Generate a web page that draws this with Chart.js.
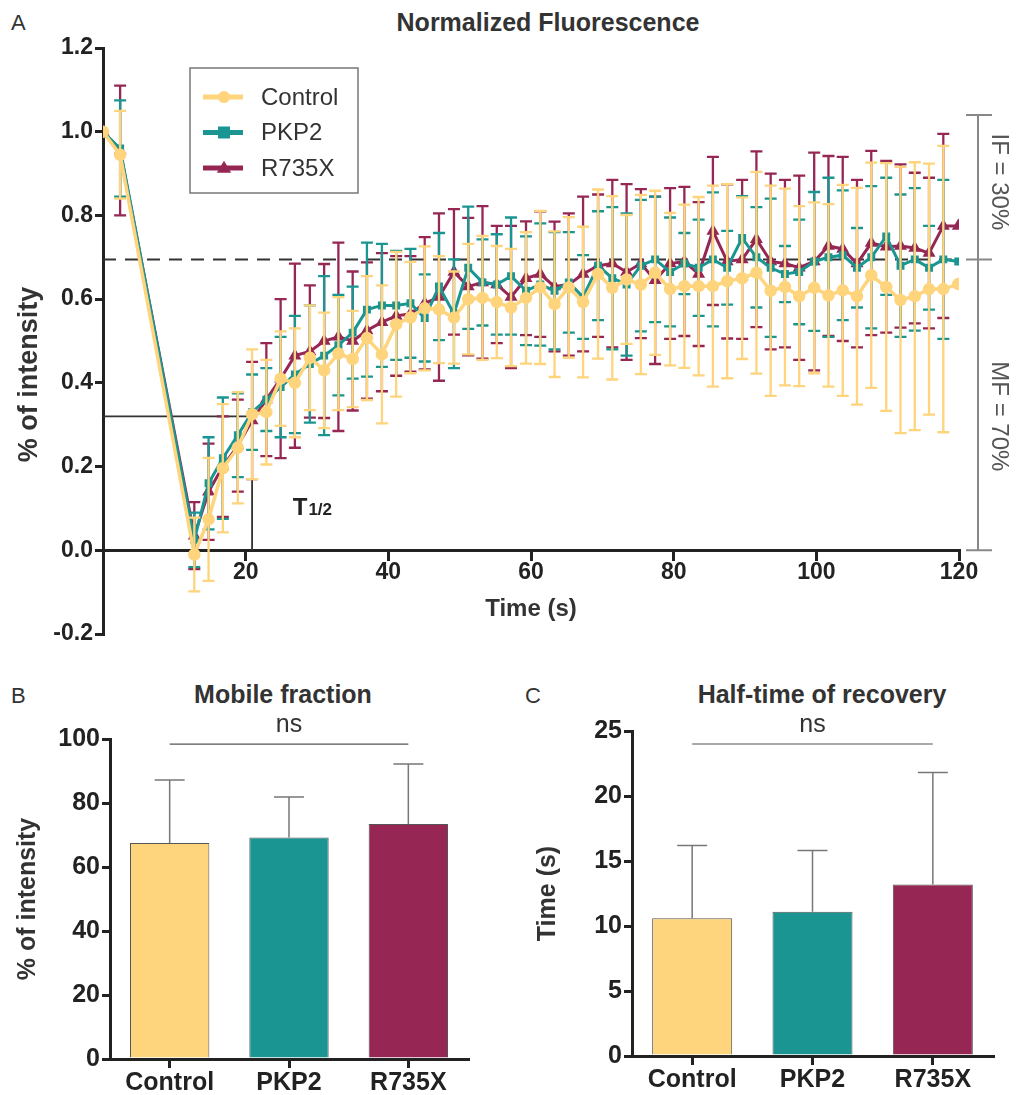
<!DOCTYPE html>
<html>
<head>
<meta charset="utf-8">
<script src="https://cdn.jsdelivr.net/npm/chart.js@4.4.1/dist/chart.umd.min.js"></script>
<style>
  body { margin: 0; background: #fff; width: 1020px; height: 1095px; position: relative; overflow: hidden;
         font-family: "Liberation Sans", Arial, sans-serif; color: #333; }
  canvas { position: absolute; }
  .panel { position: absolute; font-size: 22px; line-height: 1; color: #333; }
  .ttl { position: absolute; font-weight: bold; font-size: 25px; line-height: 1; color: #333;
         white-space: nowrap; transform: translate(-50%, -50%); }
</style>
</head>
<body>
<div class="panel" style="left:11px;top:12px">A</div>
<div class="ttl" style="left:548px;top:22px">Normalized Fluorescence</div>
<canvas id="fluo" width="1020" height="650" style="left:0;top:0"></canvas>

<div class="panel" style="left:11px;top:685px">B</div>
<div class="ttl" style="left:283px;top:694px">Mobile fraction</div>
<canvas id="mobile" width="510" height="445" style="left:0;top:650px"></canvas>

<div class="panel" style="left:525px;top:685px">C</div>
<div class="ttl" style="left:822px;top:694px">Half-time of recovery</div>
<canvas id="halftime" width="510" height="445" style="left:510px;top:650px"></canvas>

<script>
// ---- panel A data (time in s, normalized intensity, SD) ----
const times = [0, 2.4, 12.8, 14.8, 16.8, 18.9, 20.9, 22.9, 24.9, 26.9, 29.0, 31.0, 33.0, 35.0, 37.0, 39.1,
  41.1, 43.1, 45.1, 47.1, 49.2, 51.2, 53.2, 55.2, 57.2, 59.3, 61.3, 63.3, 65.3, 67.3, 69.4, 71.4, 73.4,
  75.4, 77.4, 79.5, 81.5, 83.5, 85.5, 87.5, 89.6, 91.6, 93.6, 95.6, 97.6, 99.7, 101.7, 103.7, 105.7,
  107.7, 109.8, 111.8, 113.8, 115.8, 117.8, 119.9];

const controlMean = [1.0, 0.945, -0.01, 0.074, 0.196, 0.245, 0.325, 0.33, 0.41, 0.40, 0.46, 0.43, 0.47, 0.457,
  0.507, 0.468, 0.54, 0.556, 0.578, 0.575, 0.556, 0.60, 0.603, 0.593, 0.58, 0.603, 0.628,
  0.588, 0.628, 0.593, 0.66, 0.627, 0.647, 0.635, 0.663, 0.624,
  0.631, 0.631, 0.631, 0.643, 0.65, 0.663, 0.62, 0.629, 0.607, 0.627, 0.609, 0.621, 0.607, 0.657, 0.629,
  0.598, 0.607, 0.624, 0.624, 0.636];
const controlSD = [0, 0.105, 0.088, 0.147, 0.153, 0.133, 0.155, 0.125, 0.113, 0.13, 0.125, 0.138, 0.135, 0.115,
  0.148, 0.165, 0.173, 0.133, 0.148, 0.128, 0.11, 0.132, 0.148, 0.134, 0.14, 0.157, 0.183,
  0.174, 0.168, 0.18, 0.202, 0.219, 0.154, 0.214, 0.196, 0.182,
  0.195, 0.213, 0.24, 0.232, 0.193, 0.241, 0.251, 0.235, 0.215, 0.204, 0.218, 0.252, 0.259, 0.269, 0.296,
  0.318, 0.32, 0.3, 0.342, null];

const pkp2Mean = [1.0, 0.96, 0.025, 0.16, 0.22, 0.275, 0.33, 0.36, 0.39, 0.42, 0.445, 0.465, 0.49, 0.52,
  0.575, 0.585, 0.585, 0.59, 0.555, 0.63, 0.565, 0.675, 0.64, 0.635, 0.655, 0.62, 0.635,
  0.62, 0.64, 0.605, 0.68, 0.65, 0.635, 0.68, 0.695, 0.665,
  0.685, 0.675, 0.695, 0.675, 0.746, 0.70, 0.675, 0.66, 0.665, 0.69, 0.70, 0.705, 0.675, 0.70, 0.75,
  0.68, 0.695, 0.675, 0.695, 0.69];
const pkp2SD = [0, 0.115, 0.065, 0.11, 0.145, 0.1, 0.09, 0.075, 0.12, 0.14, 0.14, 0.19, 0.12, 0.11,
  0.16, 0.147, 0.13, 0.13, 0.104, 0.128, 0.13, 0.146, 0.103, 0.12, 0.14, 0.13, 0.146,
  0.14, 0.12, 0.10, 0.13, 0.17, 0.17, 0.157, 0.15, 0.13,
  0.073, 0.115, 0.16, 0.088, 0.10, 0.12, 0.165, 0.067, 0.125, 0.166, 0.19, 0.155, 0.095, 0.17, 0.14,
  0.17, 0.17, 0.1, 0.19, null];

const r735xMean = [1.0, 0.955, 0.035, 0.14, 0.2, 0.25, 0.31, 0.36, 0.41, 0.465, 0.475, 0.5, 0.51, 0.5,
  0.525, 0.545, 0.56, 0.565, 0.59, 0.605, 0.665, 0.63, 0.64, 0.635, 0.605, 0.65, 0.66,
  0.63, 0.635, 0.66, 0.68, 0.685, 0.665, 0.685, 0.645, 0.685,
  0.69, 0.66, 0.763, 0.69, 0.695, 0.743, 0.69, 0.685, 0.675, 0.69, 0.727, 0.72, 0.685, 0.734, 0.725,
  0.727, 0.722, 0.71, 0.775, 0.775];
const r735xSD = [0, 0.155, 0.08, 0.115, 0.12, 0.11, 0.14, 0.135, 0.19, 0.22, 0.158, 0.184, 0.225, 0.166,
  0.163, 0.165, 0.143, 0.138, 0.158, 0.2, 0.15, 0.164, 0.182, 0.14, 0.17, 0.136, 0.15,
  0.155, 0.17, 0.185, 0.17, 0.2, 0.21, 0.178, 0.2, 0.18,
  0.178, 0.172, 0.177, 0.184, 0.19, 0.21, 0.21, 0.2, 0.22, 0.26, 0.215, 0.22, 0.2, 0.22, 0.205,
  0.195, 0.18, 0.18, 0.22, null];

// reference marks drawn in panel A
const plateau = 0.695;      // dashed line (MF level)
const halfLevel = 0.32;     // T1/2 box
const halfTime = 20.9;
const bracketTop = 1.04;

// ---- panels B and C ----
const groups = ['Control', 'PKP2', 'R735X'];
const mobileMean = [67.5, 69.2, 73.4];
const mobileSD = [19.7, 12.7, 18.8];
const halfTimeMean = [10.6, 11.1, 13.2];
const halfTimeSD = [5.6, 4.7, 8.6];

const YELLOW = '#FED47C', TEAL = '#1A9592', MAROON = '#962654';
const groupColors = [YELLOW, TEAL, MAROON];
const FONT = '"Liberation Sans", Arial, sans-serif';

Chart.defaults.font.family = FONT;
Chart.defaults.color = '#333';

// error bars: lines get them under the line, bars get them on top (upper half only)
const errorBars = {
  id: 'errorBars',
  beforeDatasetDraw(chart, args) {
    const ds = chart.data.datasets[args.index];
    if (ds.sd && !ds.upperOnly) drawErr(chart, args.meta, ds);
  },
  afterDatasetDraw(chart, args) {
    const ds = chart.data.datasets[args.index];
    if (ds.sd && ds.upperOnly) drawErr(chart, args.meta, ds);
  }
};
function drawErr(chart, meta, ds) {
  const ctx = chart.ctx, y = chart.scales.y;
  ctx.save();
  ctx.strokeStyle = ds.errColor || ds.borderColor;
  ctx.lineWidth = ds.errWidth || 2;
  meta.data.forEach((el, i) => {
    const sd = ds.sd[i];
    if (!sd) return;
    const d = ds.data[i];
    const m = typeof d === 'object' ? d.y : d;
    const top = y.getPixelForValue(m + sd);
    const bot = ds.upperOnly ? y.getPixelForValue(m) : y.getPixelForValue(m - sd);
    const w = ds.capWidth / 2;
    ctx.beginPath();
    ctx.moveTo(el.x, top); ctx.lineTo(el.x, bot);
    ctx.moveTo(el.x - w, top); ctx.lineTo(el.x + w, top);
    if (!ds.upperOnly) { ctx.moveTo(el.x - w, bot); ctx.lineTo(el.x + w, bot); }
    ctx.stroke();
  });
  ctx.restore();
}

function marker(ctx, style, x, y, r) {
  ctx.beginPath();
  if (style === 'circle') ctx.arc(x, y, r, 0, Math.PI * 2);
  else if (style === 'rect') ctx.rect(x - r, y - r, 2 * r, 2 * r);
  else { ctx.moveTo(x, y - r * 1.2); ctx.lineTo(x + r * 1.2, y + r * 0.8); ctx.lineTo(x - r * 1.2, y + r * 0.8); ctx.closePath(); }
  ctx.fill();
}

const fluoMarks = {
  id: 'fluoMarks',
  beforeDatasetsDraw(chart) {
    const { ctx, scales: { x, y } } = chart;
    ctx.save();
    ctx.strokeStyle = '#333';
    ctx.lineWidth = 2;
    ctx.setLineDash([13, 9]);
    ctx.beginPath();
    ctx.moveTo(x.getPixelForValue(0), y.getPixelForValue(plateau));
    ctx.lineTo(x.getPixelForValue(120), y.getPixelForValue(plateau));
    ctx.stroke();
    ctx.setLineDash([]);
    ctx.lineWidth = 1.8;
    ctx.beginPath();
    ctx.moveTo(x.getPixelForValue(0), y.getPixelForValue(halfLevel));
    ctx.lineTo(x.getPixelForValue(halfTime), y.getPixelForValue(halfLevel));
    ctx.lineTo(x.getPixelForValue(halfTime), y.getPixelForValue(0));
    ctx.stroke();
    ctx.restore();
  },
  afterDraw(chart) {
    const { ctx, chartArea: ca, scales: { x, y } } = chart;
    ctx.save();
    // y axis title, sits a little below the axis middle as in the figure
    ctx.fillStyle = '#333';
    ctx.font = 'bold 27px ' + FONT;
    ctx.textAlign = 'center';
    ctx.textBaseline = 'middle';
    ctx.save();
    ctx.translate(30, y.getPixelForValue(0.42));
    ctx.rotate(-Math.PI / 2);
    ctx.fillText('% of intensity', 0, 0);
    ctx.restore();

    // T1/2 label
    ctx.fillStyle = '#222';
    ctx.textAlign = 'left';
    ctx.textBaseline = 'alphabetic';
    ctx.font = 'bold 24px ' + FONT;
    const tx = x.getPixelForValue(26.6), ty = y.getPixelForValue(0.085);
    ctx.fillText('T', tx, ty);
    const tw = ctx.measureText('T').width;
    ctx.font = 'bold 17px ' + FONT;
    ctx.fillText('1/2', tx + tw + 1, ty);

    // bracket on the right
    const bx = ca.right + 19;
    ctx.strokeStyle = '#888';
    ctx.lineWidth = 2;
    ctx.beginPath();
    ctx.moveTo(bx, y.getPixelForValue(bracketTop)); ctx.lineTo(bx, y.getPixelForValue(0));
    [bracketTop, plateau, 0].forEach(v => {
      const py = y.getPixelForValue(v);
      ctx.moveTo(bx - 12, py); ctx.lineTo(bx + 14, py);
    });
    ctx.stroke();
    ctx.fillStyle = '#555';
    ctx.font = '24px ' + FONT;
    ctx.textAlign = 'center';
    ctx.textBaseline = 'middle';
    [['IF = 30%', 0.88], ['MF = 70%', 0.32]].forEach(([t, v]) => {
      ctx.save();
      ctx.translate(bx + 21, y.getPixelForValue(v));
      ctx.rotate(Math.PI / 2);
      ctx.fillText(t, 0, 0);
      ctx.restore();
    });

    // legend box
    const lx = ca.left + 87, ly = ca.top + 20;
    ctx.strokeStyle = '#777';
    ctx.lineWidth = 1.5;
    ctx.strokeRect(lx, ly, 168, 125);
    ctx.textAlign = 'left';
    ctx.font = '24px ' + FONT;
    chart.data.datasets.forEach((ds, i) => {
      const ry = ly + 29 + i * 35.5;
      ctx.strokeStyle = ds.borderColor;
      ctx.fillStyle = ds.borderColor;
      ctx.lineWidth = 5;
      ctx.beginPath(); ctx.moveTo(lx + 13, ry); ctx.lineTo(lx + 53, ry); ctx.stroke();
      marker(ctx, ds.pointStyle, lx + 34, ry, 6);
      ctx.fillStyle = '#333';
      ctx.fillText(ds.label, lx + 71, ry + 1);
    });
    ctx.restore();
  }
};

const nsMark = {
  id: 'nsMark',
  afterDraw(chart, args, opts) {
    const { ctx, scales: { x, y } } = chart;
    const py = y.getPixelForValue(opts.level);
    ctx.save();
    ctx.strokeStyle = '#555';
    ctx.lineWidth = 1.2;
    ctx.beginPath();
    ctx.moveTo(x.getPixelForValue(0), py); ctx.lineTo(x.getPixelForValue(2), py);
    ctx.stroke();
    ctx.fillStyle = '#333';
    ctx.font = '25px ' + FONT;
    ctx.textAlign = 'center';
    ctx.textBaseline = 'alphabetic';
    ctx.fillText(opts.text, (x.getPixelForValue(0) + x.getPixelForValue(2)) / 2, py - 12);
    ctx.restore();
  }
};

const axisGrid = { display: true, drawOnChartArea: false, tickLength: 8, lineWidth: 3, color: '#222' };
const axisBorder = { display: true, width: 3, color: '#222' };

function series(label, means, sds, color, style, radius, width) {
  return {
    label,
    data: times.map((t, i) => ({ x: t, y: means[i] })),
    sd: sds,
    borderColor: color,
    backgroundColor: color,
    pointBackgroundColor: color,
    pointBorderColor: color,
    pointStyle: style,
    pointRadius: radius,
    borderWidth: width,
    errWidth: 2.3,
    capWidth: 12,
    tension: 0
  };
}

new Chart(document.getElementById('fluo'), {
  type: 'line',
  data: {
    datasets: [
      series('Control', controlMean, controlSD, YELLOW, 'circle', 4.5, 3.5),
      series('PKP2', pkp2Mean, pkp2SD, TEAL, 'rect', 3.5, 3),
      series('R735X', r735xMean, r735xSD, MAROON, 'triangle', 4.5, 3)
    ]
  },
  options: {
    responsive: false,
    animation: false,
    layout: { padding: { left: 0, top: 48, right: 61, bottom: 16 } },
    plugins: { legend: { display: false }, tooltip: { enabled: false } },
    scales: {
      x: {
        type: 'linear', min: 0, max: 120, position: { y: 0 },
        ticks: { stepSize: 20, padding: 0, color: '#222', font: { size: 23, weight: 'bold' },
                 callback: v => (v === 0 ? '' : v) },
        grid: { ...axisGrid, tickLength: 9 },
        border: axisBorder,
        title: { display: true, text: 'Time (s)', color: '#333', font: { size: 24, weight: 'bold' },
                 padding: { top: 8, bottom: 0 } }
      },
      y: {
        min: -0.2, max: 1.2,
        ticks: { stepSize: 0.2, padding: 2, color: '#222', font: { size: 23, weight: 'bold' },
                 callback: v => (Math.abs(v) < 1e-9 ? '0.0' : v.toFixed(1)) },
        grid: axisGrid,
        border: axisBorder,
        afterFit(s) { s.width = 103; }
      }
    }
  },
  plugins: [errorBars, fluoMarks]
});

function barChart(id, means, sds, yMax, step, yTitle, nsLevel, pad, yWidth, titlePad, xHeight) {
  return new Chart(document.getElementById(id), {
    type: 'bar',
    data: {
      labels: groups,
      datasets: [{
        data: means, sd: sds, upperOnly: true, errColor: '#777', errWidth: 1.5, capWidth: 30,
        backgroundColor: groupColors, borderColor: '#555', borderWidth: 1,
        barPercentage: 0.665, categoryPercentage: 1
      }]
    },
    options: {
      responsive: false,
      animation: false,
      layout: { padding: pad },
      plugins: { legend: { display: false }, tooltip: { enabled: false },
                 nsMark: { level: nsLevel, text: 'ns' } },
      scales: {
        x: {
          ticks: { padding: 0, color: '#222', font: { size: 25, weight: 'bold' } },
          grid: { ...axisGrid, offset: false, tickLength: 9 },
          border: axisBorder,
          afterFit(s) { s.height = xHeight; }
        },
        y: {
          min: 0, max: yMax,
          ticks: { stepSize: step, padding: 2, color: '#222', font: { size: 25, weight: 'bold' } },
          grid: axisGrid,
          border: axisBorder,
          title: { display: true, text: yTitle, color: '#333', font: { size: 25, weight: 'bold' },
                   padding: { top: titlePad, bottom: 0 } },
          afterFit(s) { s.width = yWidth; }
        }
      }
    },
    plugins: [errorBars, nsMark]
  });
}

barChart('mobile', mobileMean, mobileSD, 100, 20, '% of intensity', 98.4,
         { left: 0, top: 89, right: 42, bottom: 0 }, 110, 13, 36);
barChart('halftime', halfTimeMean, halfTimeSD, 25, 5, 'Time (s)', 24.0,
         { left: 0, top: 81, right: 27, bottom: 0 }, 122, 23, 39);
</script>
</body>
</html>
